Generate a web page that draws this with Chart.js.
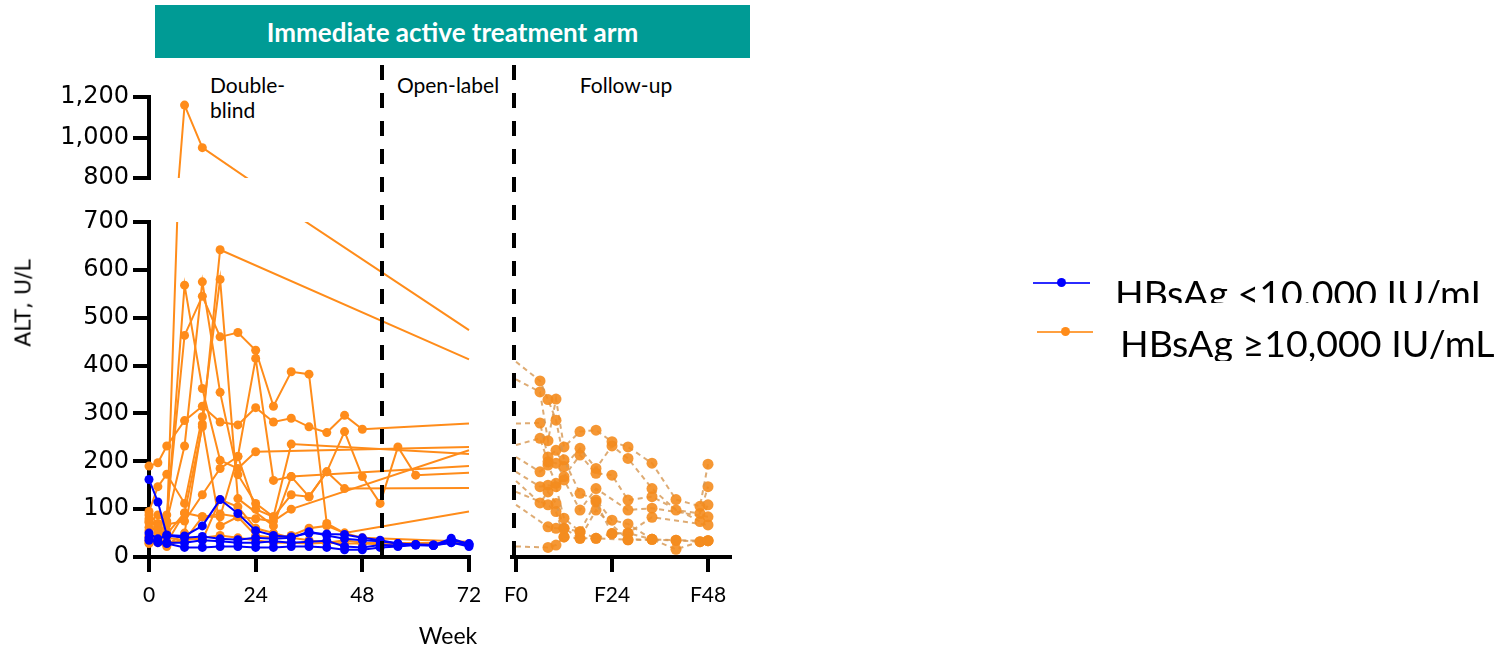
<!DOCTYPE html>
<html>
<head>
<meta charset="utf-8">
<script src="https://cdn.jsdelivr.net/npm/chart.js@4.4.1/dist/chart.umd.min.js"></script>
<style>
  body { margin: 0; width: 1500px; height: 649px; position: relative; overflow: hidden; background: #fff; font-family: Lato, sans-serif; color: #000; }
  .layer { position: absolute; left: 0; top: 0; }
  #banner { position: absolute; left: 155px; top: 5px; width: 595px; height: 53px; background: #009b95; color: #fff;
            font: bold 26px Lato; display: flex; align-items: center; justify-content: center; }
  .phase { position: absolute; top: 72px; font: 21px/25px Lato; white-space: nowrap; }
  #yTitle { position: absolute; left: 23px; top: 303px; transform: translate(-50%, -50%) rotate(-90deg);
            font: 22px 'DejaVu Sans'; white-space: nowrap; }
  #xTitle { position: absolute; left: 448px; top: 624px; transform: translateX(-50%); font: 23px/23px Lato; }
  .legLine { position: absolute; height: 2px; }
  .legDot { position: absolute; width: 9px; height: 9px; border-radius: 50%; }
  .legText { position: absolute; font: 37.5px/37px Lato; white-space: nowrap; overflow: hidden; }
</style>
</head>
<body>
<div id="banner">Immediate active treatment arm</div>
<div class="phase" style="left:210px">Double-<br>blind</div>
<div class="phase" style="left:382px;width:132px;text-align:center">Open-label</div>
<div class="phase" style="left:514px;width:224px;text-align:center">Follow-up</div>

<canvas id="followUp" class="layer" width="1500" height="649"></canvas>
<canvas id="lower" class="layer" width="1500" height="649"></canvas>
<canvas id="upper" class="layer" width="1500" height="649"></canvas>

<div id="yTitle">ALT, U/L</div>
<div id="xTitle">Week</div>

<div class="legLine" style="left:1033px;top:282px;width:57px;background:#2b2bff"></div>
<div class="legDot" style="left:1057px;top:278px;background:#0000ff"></div>
<div class="legText" style="left:1115px;top:274px;height:29px">HBsAg &lt;10.000 IU/mL</div>
<div class="legLine" style="left:1037px;top:331px;width:56px;background:#ffa040"></div>
<div class="legDot" style="left:1061px;top:327px;background:#ff8c1a"></div>
<div class="legText" style="left:1120px;top:324px">HBsAg ≥10,000 IU/mL</div>

<script>
// visit weeks (treatment period) and follow-up weeks
const weeks = [0, 2, 4, 8, 12, 16, 20, 24, 28, 32, 36, 40, 44, 48, 52, 56, 60, 64, 68, 72];
const fuWeeks = [0, 6, 8, 10, 12, 16, 20, 24, 28, 34, 40, 46, 48];

// ALT per patient, HBsAg <10,000
const blueSeries = [
  [162, 115, 46, 44, 65, 120, 91, 55, 45, 42, 50, 48, 47, 40, 35, 28, 25, 24, 39, 26],
  [50, 38, 45, 40, 43, 38, 36, 40, 38, 40, 53, 45, 38, 35, 33, 28, 26, 25, 30, 22],
  [40, 30, 28, 20, 20, 22, 22, 20, 20, 22, 22, 20, 15, 15, 20, 22, 25, 24, 30, 25],
  [35, 32, 30, 30, 35, 33, 30, 30, 33, 30, 32, 34, 22, 20, 25, 24, 26, 25, 35, 28]
];

// ALT per patient, HBsAg >=10,000
const orangeSeries = [
  [45, 40, 55, 1160, 950, null, null, 770, null, null, null, null, null, null, null, null, null, null, null, 474],
  [62, 55, 48, 92, 272, 642, null, null, null, null, null, null, null, null, null, null, null, null, null, 413],
  [30, 48, 70, 568, 352, 202, 185, 220, null, null, null, null, null, null, null, null, null, null, null, 230],
  [75, 63, 88, 463, 545, 460, 469, 432, 315, 387, 382, 70, 50, 40, null, null, null, null, null, 32],
  [88, 70, 75, 232, 575, 344, 172, 112, 84, 130, 126, 178, 143, null, null, null, null, null, null, 144],
  [190, 197, 232, 285, 315, 282, 276, 312, 282, 290, 272, 260, 296, 267, null, null, null, null, null, 279],
  [95, 147, 173, 112, 293, 580, 122, null, 65, 168, 126, 178, 262, 168, 112, 230, 171, null, null, 176],
  [72, 88, 68, 75, 130, 185, 210, 415, 160, 168, null, null, null, null, null, null, null, null, null, 190],
  [55, 62, 30, 92, 84, 84, 210, 100, 84, 236, null, null, null, null, null, null, null, null, null, 215],
  [35, 40, 25, 50, 278, 65, 84, 45, 40, 45, 60, 65, 50, null, null, null, null, null, null, 95],
  [28, 30, 22, 40, 35, 120, 105, 60, 50, 40, 35, 30, 35, 30, null, null, null, null, null, 29],
  [80, 65, 40, 35, 84, 90, 84, 80, 75, 100, null, null, null, null, null, null, null, null, null, 223],
  [40, 35, 30, 35, 40, 45, 40, 35, 30, 30, 28, 30, 28, 28, null, 25, 28, null, null, 30]
];

// follow-up ALT (HBsAg >=10,000)
const followUpSeries = [
  [408, 368, 329, 286, 203, 133, 119, 77, 69, 37, 35, 32, 34],
  [371, 345, 243, 330, 230, 262, 265, 241, 230, 196, 120, 106, 194],
  [279, 280, 209, 223, 189, 227, 185, 232, 206, 143, 98, 91, 147],
  [234, 248, 199, 196, 168, 213, 175, 171, 119, 126, null, 74, 109],
  [209, 178, 192, 154, 161, 98, 143, null, 98, 102, null, null, 84],
  [178, 147, 150, 147, 81, 53, 115, 49, 50, 83, null, null, 67],
  [159, 113, 136, 112, 60, 39, 98, null, 36, 37, 16, 32, 34],
  [136, null, 109, 95, 42, 39, 39, null, 36, null, 35, null, 34],
  [109, null, 63, 60, 60, 53, 39, 49, 50, 37, null, null, null],
  [22, null, 20, 25, 42, null, null, null, null, null, null, null, null]
];

const weekTicks = [0, 24, 48, 72];
const fuTicks = [0, 24, 48];
const lowTicks = [0, 100, 200, 300, 400, 500, 600, 700];
const highTicks = [800, 1000, 1200];
const openLabelStart = 52.4;

const BLUE = '#0000ff';
const ORANGE = '#ff8c1a';

Chart.defaults.font.family = 'Lato';
Chart.defaults.color = '#000';

// dashed phase separators
const dividers = {
  id: 'dividers',
  afterDatasetsDraw(chart, args, opts) {
    const { ctx } = chart;
    const x = chart.scales.x;
    ctx.save();
    ctx.strokeStyle = '#000';
    ctx.lineWidth = 4;
    ctx.setLineDash([15, 13]);
    for (const v of opts.at) {
      const px = Math.round(x.getPixelForValue(v));
      ctx.beginPath();
      ctx.moveTo(px, 65);
      ctx.lineTo(px, chart.chartArea.bottom);
      ctx.stroke();
    }
    ctx.restore();
  }
};

function toPoints(xs, vals) {
  return xs.map((x, i) => ({ x: x, y: vals[i] }));
}

function treatmentSets(clip) {
  const blue = blueSeries.map(v => ({
    data: toPoints(weeks, v), borderColor: BLUE, backgroundColor: BLUE, borderWidth: 2,
    pointRadius: 4.5, pointBorderWidth: 0, spanGaps: true, clip: clip
  }));
  const orange = orangeSeries.map(v => ({
    data: toPoints(weeks, v), borderColor: ORANGE, backgroundColor: ORANGE, borderWidth: 2,
    pointRadius: c => (c.raw && c.raw.x === 72 ? 0 : 4.5), pointBorderWidth: 0, spanGaps: true, clip: clip
  }));
  return blue.concat(orange);
}

const axisGrid = { drawOnChartArea: false, drawTicks: true, lineWidth: 4, color: '#000' };
const axisBorder = { display: true, width: 4, color: '#000' };

function xAxis(min, max, ticks, label) {
  return {
    type: 'linear', min: min, max: max, z: 1,
    afterFit: s => { s.height = 92; },
    afterBuildTicks: s => { s.ticks = ticks.map(value => ({ value })); },
    ticks: { callback: label, font: { family: 'Lato', size: 21 }, padding: 11, maxRotation: 0, autoSkip: false },
    grid: Object.assign({ tickLength: 15 }, axisGrid),
    border: axisBorder
  };
}

function yAxis(min, max, ticks) {
  return {
    type: 'linear', min: min, max: max, z: 1,
    afterFit: s => { s.width = 149; },
    afterBuildTicks: s => { s.ticks = ticks.map(value => ({ value })); },
    ticks: { callback: v => v.toLocaleString('en-US'), font: { family: 'DejaVu Sans', size: 24 }, padding: 4 },
    grid: Object.assign({ tickLength: 16 }, axisGrid),
    border: axisBorder
  };
}

const base = { responsive: false, animation: false, events: [] };
const noLegend = { legend: { display: false }, tooltip: { enabled: false } };

// lower treatment panel, 0-700
new Chart(document.getElementById('lower'), {
  type: 'line',
  data: { datasets: treatmentSets({ left: 10, right: 6, top: 0, bottom: 10 }) },
  plugins: [dividers],
  options: Object.assign({}, base, {
    layout: { padding: { left: 0, top: 222, right: 1031, bottom: 0 } },
    plugins: Object.assign({ dividers: { at: [openLabelStart] } }, noLegend),
    scales: {
      x: xAxis(0, 72, weekTicks, v => String(v)),
      y: yAxis(0, 700, lowTicks)
    }
  })
});

// upper treatment panel, 800-1200 (broken axis)
new Chart(document.getElementById('upper'), {
  type: 'line',
  data: { datasets: treatmentSets({ left: 10, right: 6, top: 10, bottom: 0 }) },
  options: Object.assign({}, base, {
    layout: { padding: { left: 0, top: 97, right: 1031, bottom: 471 } },
    plugins: noLegend,
    scales: {
      x: { type: 'linear', min: 0, max: 72, display: false },
      y: yAxis(800, 1200, highTicks)
    }
  })
});

// follow-up panel
new Chart(document.getElementById('followUp'), {
  type: 'line',
  data: {
    datasets: followUpSeries.map(v => ({
      data: toPoints(fuWeeks, v), borderColor: 'rgba(214,150,80,0.8)', backgroundColor: 'rgba(244,140,30,0.9)',
      borderWidth: 2, borderDash: [5, 4], pointRadius: c => (c.raw && c.raw.x === 0 ? 0 : 5.5),
      pointBorderWidth: 0, spanGaps: true, clip: { left: 0, right: 6, top: 0, bottom: 10 }
    }))
  },
  plugins: [dividers],
  options: Object.assign({}, base, {
    layout: { padding: { left: 512, top: 222, right: 770, bottom: 0 } },
    plugins: Object.assign({ dividers: { at: [-0.5] } }, noLegend),
    scales: {
      x: xAxis(-1, 53.5, fuTicks, v => 'F' + v),
      y: { type: 'linear', min: 0, max: 700, display: false }
    }
  })
});
</script>
</body>
</html>
